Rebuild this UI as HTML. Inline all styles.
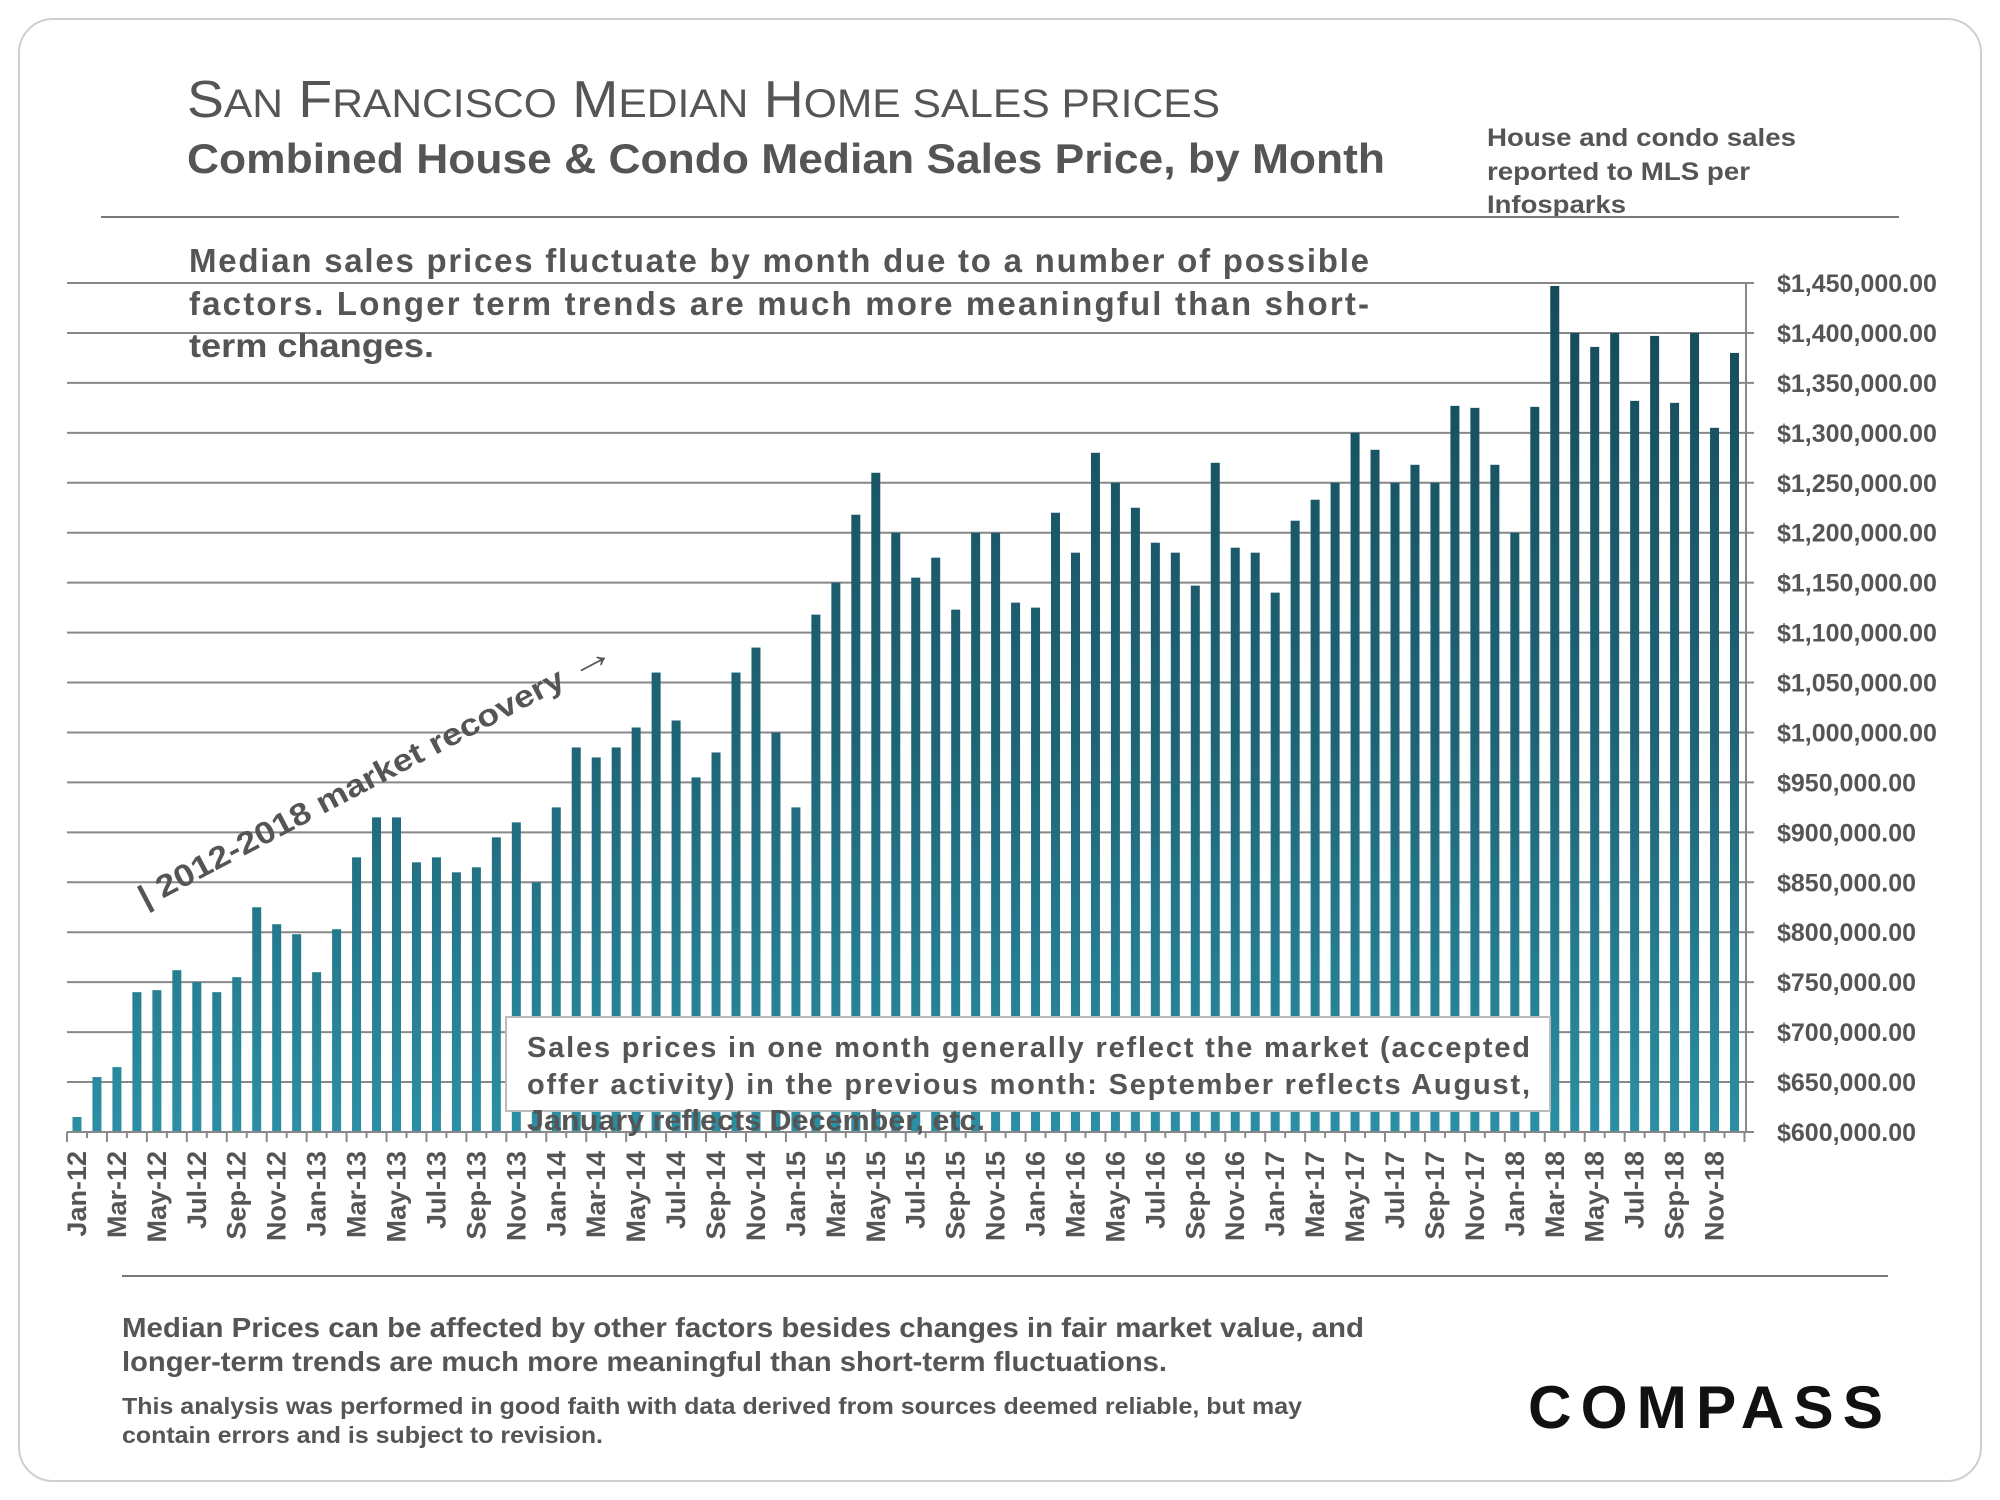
<!DOCTYPE html>
<html><head><meta charset="utf-8">
<style>
html,body{margin:0;padding:0;background:#fff;}
svg{display:block;font-family:"Liberation Sans",sans-serif;}
</style></head>
<body>
<svg id="chart" width="2000" height="1500" viewBox="0 0 2000 1500" xmlns="http://www.w3.org/2000/svg">
<defs>
<linearGradient id="barGrad" gradientUnits="userSpaceOnUse" x1="0" y1="283" x2="0" y2="1132">
<stop offset="0" stop-color="#164b5a"/>
<stop offset="0.55" stop-color="#1f6577"/>
<stop offset="1" stop-color="#2b8fa3"/>
</linearGradient>
</defs>
<rect x="19" y="19" width="1962" height="1462" rx="34" fill="#fff" stroke="#cfcfcf" stroke-width="2"/>
<text x="187" y="117" font-size="52" fill="#555" textLength="1033" lengthAdjust="spacingAndGlyphs">S<tspan font-size="40">AN</tspan> F<tspan font-size="40">RANCISCO</tspan> M<tspan font-size="40">EDIAN</tspan> H<tspan font-size="40">OME SALES PRICES</tspan></text>
<text x="187" y="173" font-size="42" font-weight="bold" fill="#555" textLength="1198" lengthAdjust="spacingAndGlyphs">Combined House &amp; Condo Median Sales Price, by Month</text>
<g font-size="25" font-weight="bold" fill="#555">
<text x="1487" y="146" textLength="309" lengthAdjust="spacingAndGlyphs">House and condo sales</text>
<text x="1487" y="180" textLength="263" lengthAdjust="spacingAndGlyphs">reported to MLS per</text>
<text x="1487" y="213" textLength="139" lengthAdjust="spacingAndGlyphs">Infosparks</text>
</g>
<line x1="101" y1="217" x2="1899" y2="217" stroke="#777" stroke-width="2"/>
<g id="grid"></g>
<g id="bars"></g>
<g id="yticks"></g>
<g id="xticks"></g>
<g font-size="33" font-weight="bold" fill="#555">
<text x="189" y="272" textLength="1180" lengthAdjust="spacing">Median sales prices fluctuate by month due to a number of possible</text>
<text x="189" y="315" textLength="1180" lengthAdjust="spacing">factors. Longer term trends are much more meaningful than short-</text>
<text x="189" y="357" textLength="245" lengthAdjust="spacingAndGlyphs">term changes.</text>
</g>
<text transform="translate(145,908) rotate(-27.8)" font-size="31" font-weight="bold" fill="#555" textLength="533" lengthAdjust="spacingAndGlyphs">| 2012-2018 market recovery <tspan font-size="40">→</tspan></text>
<rect x="506" y="1017" width="1044" height="94" fill="#fff" stroke="#bbb" stroke-width="2"/>
<g font-size="29" font-weight="bold" fill="#555">
<text x="527" y="1057" textLength="1003" lengthAdjust="spacing">Sales prices in one month generally reflect the market (accepted</text>
<text x="527" y="1094" textLength="1003" lengthAdjust="spacing">offer activity) in the previous month:  September reflects August,</text>
<text x="527" y="1130" textLength="458" lengthAdjust="spacingAndGlyphs">January reflects December, etc.</text>
</g>
<line x1="122" y1="1276" x2="1888" y2="1276" stroke="#777" stroke-width="2"/>
<g font-size="28" font-weight="bold" fill="#555">
<text x="122" y="1337" textLength="1242" lengthAdjust="spacingAndGlyphs">Median Prices can be affected by other factors besides changes in fair market value, and</text>
<text x="122" y="1371" textLength="1045" lengthAdjust="spacingAndGlyphs">longer-term trends are much more meaningful than short-term fluctuations.</text>
</g>
<g font-size="23" font-weight="bold" fill="#555">
<text x="122" y="1414" textLength="1180" lengthAdjust="spacingAndGlyphs">This analysis was performed in good faith with data derived from sources deemed reliable, but may</text>
<text x="122" y="1443" textLength="481" lengthAdjust="spacingAndGlyphs">contain errors and is subject to revision.</text>
</g>
<text x="1528" y="1428" font-size="60" font-weight="bold" fill="#111" letter-spacing="9" textLength="364" lengthAdjust="spacingAndGlyphs">COMPASS</text>
<script>
const months = ["Jan","Feb","Mar","Apr","May","Jun","Jul","Aug","Sep","Oct","Nov","Dec"];
const years = ["12","13","14","15","16","17","18"];
const prices = [
615000,655000,665000,740000,742000,762000,750000,740000,755000,825000,808000,798000,
760000,803000,875000,915000,915000,870000,875000,860000,865000,895000,910000,850000,
925000,985000,975000,985000,1005000,1060000,1012000,955000,980000,1060000,1085000,1000000,
925000,1118000,1150000,1218000,1260000,1200000,1155000,1175000,1123000,1200000,1200000,1130000,
1125000,1220000,1180000,1280000,1250000,1225000,1190000,1180000,1147000,1270000,1185000,1180000,
1140000,1212000,1233000,1250000,1300000,1283000,1250000,1268000,1250000,1327000,1325000,1268000,
1200000,1326000,1447000,1400000,1386000,1400000,1332000,1397000,1330000,1400000,1305000,1380000
];
const yTicks = [600000,650000,700000,750000,800000,850000,900000,950000,1000000,1050000,1100000,1150000,1200000,1250000,1300000,1350000,1400000,1450000];
const categories = [];
years.forEach(y => months.forEach(m => categories.push(m + "-" + y)));

const NS = "http://www.w3.org/2000/svg";
const yMin = 600000, yMax = 1450000, yBottom = 1132, yTop = 283;
const xLeft = 67, step = 19.97, barW = 9;
const yScale = v => yBottom - (v - yMin) / (yMax - yMin) * (yBottom - yTop);
const xScale = i => xLeft + step * (i + 0.5);
function mk(tag, attrs, parent){ const e = document.createElementNS(NS, tag); for (const k in attrs) e.setAttribute(k, attrs[k]); parent.appendChild(e); return e; }
const fmt = v => "$" + v.toLocaleString("en-US") + ".00";

const grid = document.getElementById("grid");
const yt = document.getElementById("yticks");
yTicks.forEach(v => {
  const y = yScale(v);
  const l = mk("line", {x1: xLeft, x2: 1754, y1: y, y2: y, stroke: "#888", "stroke-width": 2}, grid);
  
  
  const t = mk("text", {x: 1777, y: y + 9, "font-size": 25, "font-weight": "bold", fill: "#555"}, yt);
  
  
  t.textContent = fmt(v);
});
const ax = mk("line", {x1: 1746, x2: 1746, y1: yTop, y2: yBottom, stroke: "#888", "stroke-width": 2}, grid);



const bars = document.getElementById("bars");
prices.forEach((v, i) => {
  const y = yScale(v);
  const r = mk("rect", {x: xScale(i) - barW / 2, y: y, width: barW, height: yBottom - y, fill: "url(#barGrad)"}, bars);
  
  
});

const xt = document.getElementById("xticks");
const base = mk("line", {x1: xLeft, x2: 1746, y1: yBottom, y2: yBottom, stroke: "#888", "stroke-width": 2}, xt);


for (let i = 0; i <= categories.length; i++) {
  const x = xLeft + step * i;
  const tk = mk("line", {x1: x, x2: x, y1: yBottom, y2: yBottom + (i % 2 === 0 ? 10 : 6), stroke: "#888", "stroke-width": 2}, xt);
  
  
}
categories.forEach((c, i) => {
  if (i % 2) return;
  const x = xScale(i) + 9;
  const t = mk("text", {x: 0, y: 0, transform: "translate(" + x + ",1151) rotate(-90)", "text-anchor": "end", "font-size": 27, "font-weight": "bold", fill: "#555"}, xt);
  
  
  t.textContent = c;
});
</script>
</svg>
</body></html>
